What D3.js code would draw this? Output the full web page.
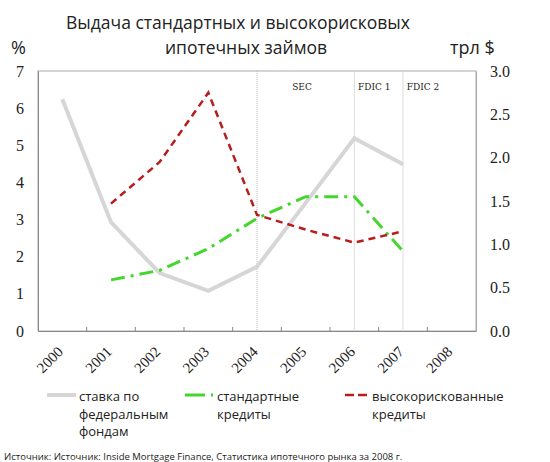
<!DOCTYPE html>
<html>
<head>
<meta charset="utf-8">
<script src="https://cdn.jsdelivr.net/npm/d3@7"></script>
<style>
  body { margin: 0; background: #fff; }
  svg text { fill: #222; }
</style>
</head>
<body>
<div id="chartMain"></div>
<script>
const years = ['2000', '2001', '2002', '2003', '2004', '2005', '2006', '2007', '2008'];

// ставка по федеральным фондам, %
const fedRate = [6.24, 2.93, 1.56, 1.08, 1.73, 3.45, 5.19, 4.49];
// стандартные кредиты, трл $ (с 2001)
const primeLoans = [null, 0.59, 0.70, 0.95, 1.30, 1.55, 1.55, 0.92];
// высокорискованные кредиты, трл $ (с 2001)
const subprimeLoans = [null, 1.47, 1.95, 2.75, 1.34, 1.17, 1.02, 1.15];

const leftTicks = [0, 1, 2, 3, 4, 5, 6, 7];
const rightTicks = [0, 0.5, 1, 1.5, 2, 2.5, 3];

const markers = [
    { year: '2004', label: 'SEC' },
    { year: '2006', label: 'FDIC 1' },
    { year: '2007', label: 'FDIC 2' }
];

const width = 550, height = 462;
const margin = { top: 71, right: 74, bottom: 131, left: 38 };
const innerW = width - margin.left - margin.right;
const innerH = height - margin.top - margin.bottom;

const svg = d3.select('#chartMain')
    .append('svg')
    .attr('width', width)
    .attr('height', height);

const g = svg.append('g')
    .attr('transform', `translate(${margin.left},${margin.top})`);

// Шкалы
const x = d3.scaleBand()
    .domain(years)
    .range([0, innerW]);

const yLeft = d3.scaleLinear()
    .domain([0, 7])
    .range([innerH, 0]);

const yRight = d3.scaleLinear()
    .domain([0, 3])
    .range([innerH, 0]);

const cx = d => x(d) + x.bandwidth() / 2;

// Рамка
g.append('rect')
    .attr('width', innerW)
    .attr('height', innerH)
    .attr('fill', 'none')
    .attr('stroke', '#aaa')
    .attr('stroke-width', 1);

// Вертикальные линии событий
g.selectAll('.marker')
    .data(markers)
    .join('line')
    .attr('x1', d => cx(d.year))
    .attr('x2', d => cx(d.year))
    .attr('y1', 0)
    .attr('y2', innerH)
    .attr('stroke', (d, i) => i === 0 ? '#bbb' : '#ddd')
    .attr('stroke-dasharray', (d, i) => i === 0 ? '1,1' : null);

g.selectAll('.marker-label')
    .data(markers)
    .join('text')
    .attr('x', (d, i) => cx(d.year) + (i === 0 ? 45 : 20))
    .attr('y', 19)
    .attr('text-anchor', 'middle')
    .attr('font-family', 'DejaVu Serif, serif')
    .attr('font-size', 9)
    .attr('fill', '#444')
    .text(d => d.label);

// Оси
const xAxis = d3.axisBottom(x).tickSize(0).tickFormat(d => d);
const xg = g.append('g')
    .attr('transform', `translate(0,${innerH})`)
    .call(xAxis);
xg.select('.domain').attr('stroke', '#888');
xg.selectAll('text')
    .attr('font-family', 'Liberation Serif, serif')
    .attr('font-size', 15)
    .attr('fill', '#222')
    .attr('text-anchor', 'end')
    .attr('y', 0)
    .attr('dy', '0.35em')
    .attr('transform', 'translate(-2,18) rotate(-45)');

// деления на границах полос
g.append('g')
    .selectAll('line')
    .data(years.slice(1))
    .join('line')
    .attr('x1', d => x(d))
    .attr('x2', d => x(d))
    .attr('y1', innerH)
    .attr('y2', innerH - 4)
    .attr('stroke', '#888');

const lg = g.append('g')
    .call(d3.axisLeft(yLeft).tickValues(leftTicks).tickSize(0).tickPadding(14).tickFormat(d3.format('d')));
lg.select('.domain').attr('stroke', '#888');
lg.selectAll('text')
    .attr('font-family', 'Liberation Serif, serif')
    .attr('font-size', 16)
    .attr('fill', '#222');

const rg = g.append('g')
    .attr('transform', `translate(${innerW},0)`)
    .call(d3.axisRight(yRight).tickValues(rightTicks).tickSize(0).tickPadding(14).tickFormat(d3.format('.1f')));
rg.select('.domain').attr('stroke', '#aaa');
rg.selectAll('text')
    .attr('font-family', 'Liberation Serif, serif')
    .attr('font-size', 16)
    .attr('fill', '#222');

// Линии
const fedLine = d3.line()
    .x((d, i) => cx(years[i]))
    .y(d => yLeft(d));

const loanLine = d3.line()
    .defined(d => d !== null)
    .x((d, i) => cx(years[i]))
    .y(d => yRight(d));

g.append('path')
    .datum(fedRate)
    .attr('fill', 'none')
    .attr('stroke', '#d6d6d6')
    .attr('stroke-width', 4)
    .attr('d', fedLine);

g.append('path')
    .datum(primeLoans)
    .attr('fill', 'none')
    .attr('stroke', '#45d62e')
    .attr('stroke-width', 3)
    .attr('stroke-dasharray', '14,6,3,6')
    .attr('d', loanLine);

g.append('path')
    .datum(subprimeLoans)
    .attr('fill', 'none')
    .attr('stroke', '#b81c1c')
    .attr('stroke-width', 2.5)
    .attr('stroke-dasharray', '7,5')
    .attr('d', loanLine);

// Заголовок
const title = svg.append('text')
    .attr('text-anchor', 'middle')
    .attr('font-family', 'Open Sans, sans-serif')
    .attr('font-size', 17.5);
title.append('tspan').attr('x', 238).attr('y', 29).text('Выдача стандартных и высокорисковых');
title.append('tspan').attr('x', 246).attr('y', 54).text('ипотечных займов');

svg.append('text')
    .attr('x', 11).attr('y', 54)
    .attr('font-family', 'Open Sans, sans-serif')
    .attr('font-size', 18)
    .text('%');

svg.append('text')
    .attr('x', 450).attr('y', 54)
    .attr('font-family', 'Open Sans, sans-serif')
    .attr('font-size', 18)
    .text('трл $');

// Легенда
const legend = [
    { lines: ['ставка по', 'федеральным', 'фондам'], color: '#d6d6d6', width: 4, dash: null, x1: 47, x2: 76, tx: 79 },
    { lines: ['стандартные', 'кредиты'], color: '#45d62e', width: 3, dash: '20,6,2,6', x1: 185, x2: 215, tx: 217 },
    { lines: ['высокорискованные', 'кредиты'], color: '#b81c1c', width: 2.5, dash: '9,4', x1: 345, x2: 369, tx: 372 }
];

const lgd = svg.append('g');
legend.forEach(item => {
    lgd.append('line')
        .attr('x1', item.x1).attr('x2', item.x2)
        .attr('y1', 395).attr('y2', 395)
        .attr('stroke', item.color)
        .attr('stroke-width', item.width)
        .attr('stroke-dasharray', item.dash);
    const t = lgd.append('text')
        .attr('font-family', 'Open Sans, sans-serif')
        .attr('font-size', 13);
    item.lines.forEach((l, i) => {
        t.append('tspan').attr('x', item.tx).attr('y', 401 + i * 17.5).text(l);
    });
});

svg.append('text')
    .attr('x', 4).attr('y', 460)
    .attr('font-family', 'Open Sans, sans-serif')
    .attr('font-size', 9.5)
    .text('Источник: Источник: Inside Mortgage Finance, Статистика ипотечного рынка за 2008 г.');
</script>
</body>
</html>
